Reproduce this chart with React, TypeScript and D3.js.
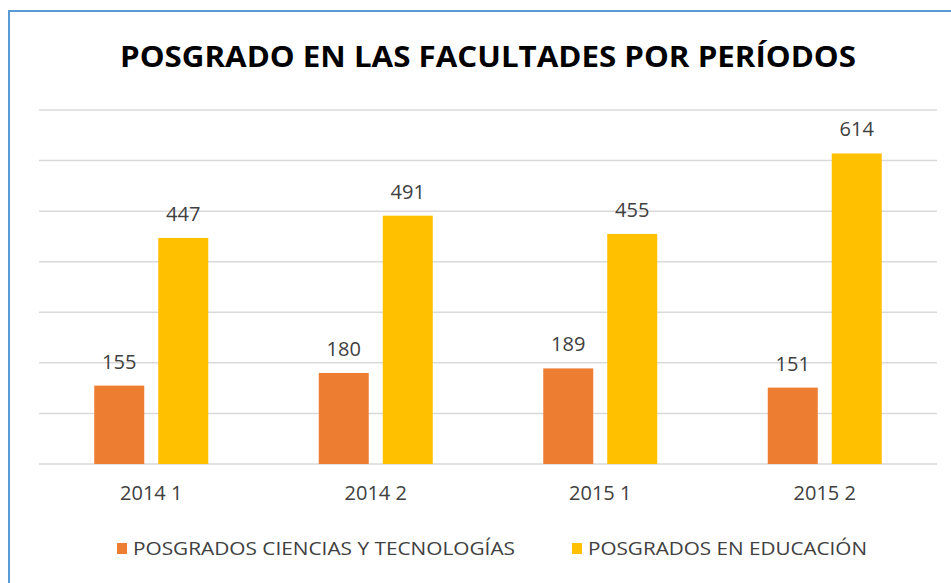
import React from "react";
import * as d3 from "d3";

const categories = ["2014 1", "2014 2", "2015 1", "2015 2"];
const seriesNames = ["POSGRADOS CIENCIAS Y TECNOLOGÍAS", "POSGRADOS EN EDUCACIÓN"];
const ciencias = [155, 180, 189, 151];
const educacion = [447, 491, 455, 614];
const yTicks = [0, 100, 200, 300, 400, 500, 600, 700];
const colors = ["#ED7D31", "#FFC000"];

export default function App() {
  const width = 951,
    height = 583;
  const plot = { left: 39, right: 937, top: 110, bottom: 464 };

  const x = d3.scaleBand().domain(categories).range([plot.left, plot.right]);
  const y = d3.scaleLinear().domain([0, 700]).range([plot.bottom, plot.top]);
  const barW = 50,
    gap = 14;
  const series = [ciencias, educacion];
  const font = "'Open Sans', 'Liberation Sans', sans-serif";

  return (
    <svg
      width={width}
      height={height}
      style={{ position: "absolute", left: 0, top: 0, background: "#fff" }}
      fontFamily={font}
    >
      <rect x={9} y={11} width={1000} height={700} fill="#fff" stroke="#5B9BD5" strokeWidth={2} />
      <text
        x={488}
        y={67}
        textAnchor="middle"
        fontSize={28}
        fontWeight="bold"
        fill="#000"
        textLength={736}
        lengthAdjust="spacingAndGlyphs"
      >
        POSGRADO EN LAS FACULTADES POR PERÍODOS
      </text>
      {yTicks.map((t) => (
        <line key={t} x1={plot.left} x2={plot.right} y1={y(t)} y2={y(t)} stroke="#D9D9D9" strokeWidth={1.5} />
      ))}
      {categories.map((c, i) => {
        const cx = x(c)! + x.bandwidth() / 2;
        return (
          <g key={c}>
            {series.map((s, j) => {
              const bx = cx - gap / 2 - barW + j * (barW + gap);
              return (
                <g key={j}>
                  <rect x={bx} y={y(s[i])} width={barW} height={y(0) - y(s[i])} fill={colors[j]} />
                  <text
                    x={bx + barW / 2}
                    y={y(s[i]) - 17}
                    textAnchor="middle"
                    fontSize={20}
                    fill="#404040"
                  >
                    {s[i]}
                  </text>
                </g>
              );
            })}
            <text x={cx} y={500} textAnchor="middle" fontSize={20} fill="#404040">
              {c}
            </text>
          </g>
        );
      })}
      {seriesNames.map((n, j) => {
        const lx = [117, 572][j];
        const tw = [382, 279][j];
        return (
          <g key={n}>
            <rect x={lx} y={543} width={10} height={11} fill={colors[j]} />
            <text
              x={lx + 16}
              y={555}
              fontSize={19}
              fill="#404040"
              textLength={tw}
              lengthAdjust="spacingAndGlyphs"
            >
              {n}
            </text>
          </g>
        );
      })}
    </svg>
  );
}
